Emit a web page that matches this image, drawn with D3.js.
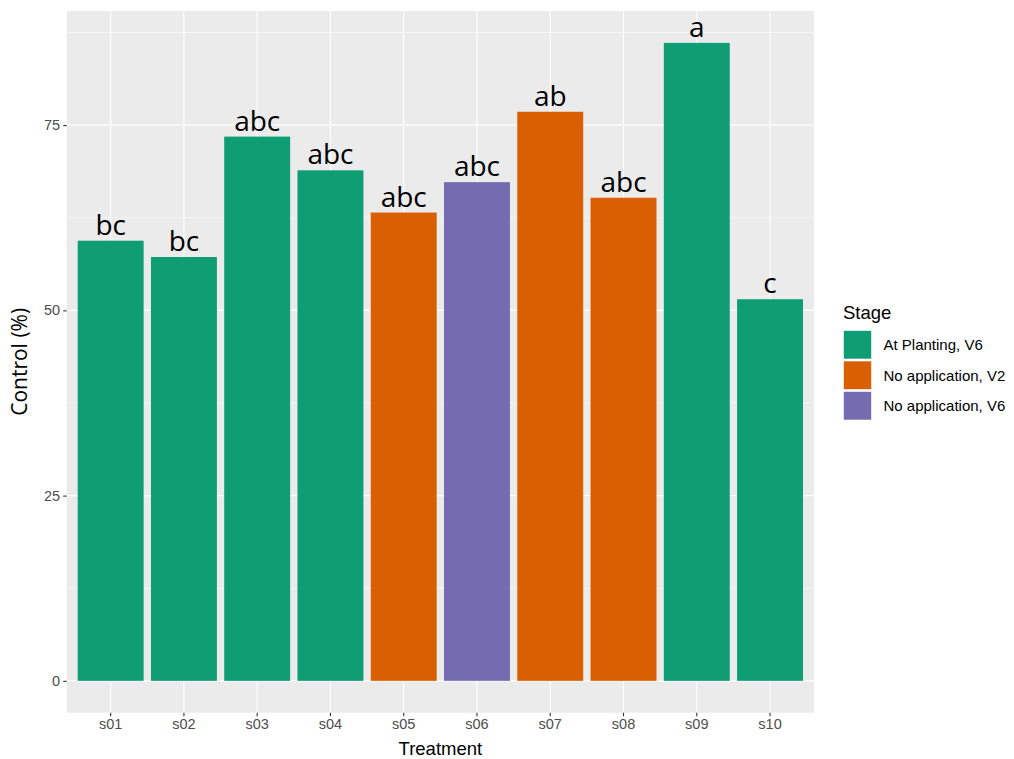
<!DOCTYPE html>
<html><head><meta charset="utf-8">
<script src="https://cdn.jsdelivr.net/npm/d3@7"></script>
<style>body{margin:0;background:#fff}svg{display:block}</style>
</head><body>
<svg id="c" width="1014" height="759"></svg>
<script>
const treatments = ["s01","s02","s03","s04","s05","s06","s07","s08","s09","s10"];
const controlValues = [59.4, 57.2, 73.45, 68.9, 63.2, 67.3, 76.8, 65.2, 86.1, 51.5];
const stages = ["At Planting, V6","At Planting, V6","At Planting, V6","At Planting, V6","No application, V2","No application, V6","No application, V2","No application, V2","At Planting, V6","At Planting, V6"];
const letters = ["bc","bc","abc","abc","abc","abc","ab","abc","a","c"];
const stageLevels = ["At Planting, V6","No application, V2","No application, V6"];
const stageColors = ["#0F9D74","#D95F02","#746CB1"];
const yTicks = [0,25,50,75];
const yMinor = [12.5,37.5,62.5,87.5];

const svg = d3.select("#c");
const P = {l:66.7, r:814, t:11, b:712.7};
const font = "Liberation Sans, Arial, sans-serif";
const font2 = "Open Sans, Noto Sans, sans-serif";

const x = d3.scaleBand().domain(treatments).range([P.l, P.r]).paddingInner(0.1).paddingOuter(0.15);
const y = d3.scaleLinear().domain([-4.3, 90.4]).range([P.b, P.t]);
const color = d3.scaleOrdinal().domain(stageLevels).range(stageColors);

svg.append("rect").attr("x",P.l).attr("y",P.t).attr("width",P.r-P.l).attr("height",P.b-P.t).attr("fill","#EBEBEB");
const g = svg.append("g");
g.selectAll(".ymin").data(yMinor).join("line").attr("x1",P.l).attr("x2",P.r)
 .attr("y1",d=>y(d)).attr("y2",d=>y(d)).attr("stroke","#fff").attr("stroke-width",0.55);
g.selectAll(".ymaj").data(yTicks).join("line").attr("x1",P.l).attr("x2",P.r)
 .attr("y1",d=>y(d)).attr("y2",d=>y(d)).attr("stroke","#fff").attr("stroke-width",1.1);
g.selectAll(".xmaj").data(treatments).join("line").attr("y1",P.t).attr("y2",P.b)
 .attr("x1",d=>x(d)+x.bandwidth()/2).attr("x2",d=>x(d)+x.bandwidth()/2).attr("stroke","#fff").attr("stroke-width",1.1);

g.selectAll(".bar").data(treatments).join("rect")
 .attr("x",d=>x(d)).attr("width",x.bandwidth())
 .attr("y",(d,i)=>y(controlValues[i])).attr("height",(d,i)=>y(0)-y(controlValues[i]))
 .attr("fill",(d,i)=>color(stages[i]));

g.selectAll(".lab").data(treatments).join("text")
 .attr("x",d=>x(d)+x.bandwidth()/2).attr("y",(d,i)=>y(controlValues[i])-6)
 .attr("text-anchor","middle").attr("font-family",font2).attr("font-size",28)
 .attr("fill","#000").text((d,i)=>letters[i]);

// axes
const yAxis = svg.append("g").attr("transform",`translate(${P.l},0)`)
 .call(d3.axisLeft(y).tickValues(yTicks).tickSize(3.5).tickPadding(3));
yAxis.select(".domain").remove();
yAxis.selectAll("line").attr("stroke","#333").attr("stroke-width",1.1);
yAxis.selectAll("text").attr("fill","#4D4D4D").attr("font-size",14.5).attr("font-family",font);

const xAxis = svg.append("g").attr("transform",`translate(0,${P.b})`)
 .call(d3.axisBottom(x).tickSize(3.5).tickPadding(3));
xAxis.select(".domain").remove();
xAxis.selectAll("line").attr("stroke","#333").attr("stroke-width",1.1);
xAxis.selectAll("text").attr("fill","#4D4D4D").attr("font-size",14.5).attr("font-family",font);

svg.append("text").attr("x",(P.l+P.r)/2).attr("y",755).attr("text-anchor","middle")
 .attr("font-family",font).attr("font-size",18.5).attr("fill","#000").text("Treatment");
svg.append("text").attr("transform",`translate(27,${(P.t+P.b)/2}) rotate(-90)`).attr("text-anchor","middle")
 .attr("font-family",font2).attr("font-size",21).attr("fill","#000").text("Control (%)");

// legend
const lg = svg.append("g");
lg.append("text").attr("x",843).attr("y",319).attr("font-family",font).attr("font-size",18.5).attr("fill","#000").text("Stage");
const items = lg.selectAll(".li").data(stageLevels).join("g")
 .attr("transform",(d,i)=>`translate(843.5,${330.5+i*30.5})`);
items.append("rect").attr("width",28).attr("height",28.5).attr("fill",d=>color(d)).attr("stroke","#fff").attr("stroke-width",0.6);
items.append("text").attr("x",40).attr("y",19.5).attr("font-family",font).attr("font-size",15).attr("fill","#000").text(d=>d);
</script>
</body></html>
